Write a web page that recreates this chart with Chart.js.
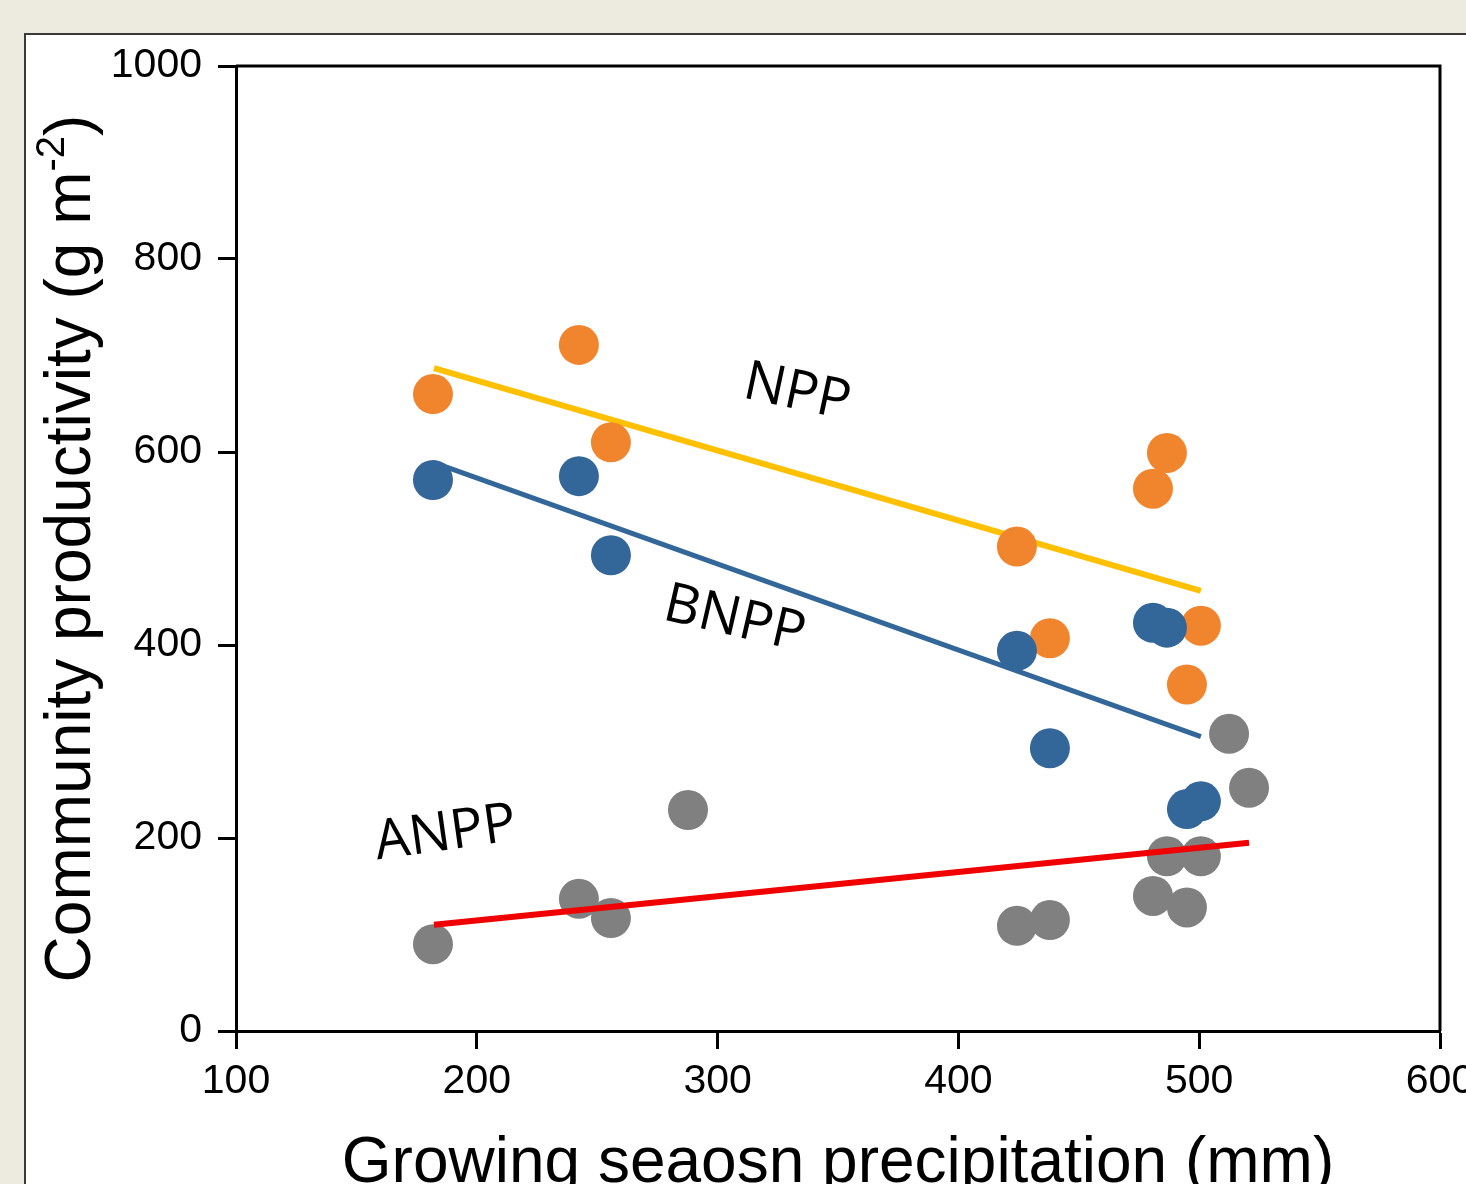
<!DOCTYPE html>
<html>
<head>
<meta charset="utf-8">
<script src="https://cdn.jsdelivr.net/npm/chart.js@4.4.1/dist/chart.umd.min.js"></script>
<style>
  html, body { margin: 0; padding: 0; background: #EDEAE0; }
  #wrap { position: absolute; left: 0; top: 0; width: 1466px; height: 1184px; }
</style>
</head>
<body>
<div id="wrap"><canvas id="chart" width="1466" height="1184"></canvas></div>
<script>
// growing season precipitation (mm) for the NPP / BNPP sites
const precip = [181.8, 242.4, 255.7, 424.3, 438, 480.8, 486.6, 494.9, 500.7];
const npp  = [660, 711, 610, 502, 407, 562, 599, 359, 420];
const bnpp = [571, 575, 493, 394, 293, 423, 418, 230, 238];

// ANPP has a few more sites
const anppPrecip = [181.8, 242.4, 255.7, 287.7, 424.3, 438, 480.8, 486.6, 494.9, 500.7, 512.4, 520.7];
const anpp = [90, 137, 117, 229, 109, 115, 140, 181, 128, 181, 308, 252];

// fitted lines (end points)
const nppFitX  = [182.2, 500.7];
const nppFitY  = [687, 456];
const bnppFitX = [182.2, 500.7];
const bnppFitY = [589, 305];
const anppFitX = [182.2, 520.7];
const anppFitY = [110, 195];

// in-plot labels: [text, x, y, angle in degrees]
const seriesLabels = [
  ['NPP', 333, 661, 12],
  ['BNPP', 307, 426, 13],
  ['ANPP', 187, 204, -8]
];

const orange = '#F0852D';
const blue = '#336699';
const grey = '#808080';
const tickFont = "'Liberation Sans', Arial, sans-serif";

const toPts = (xs, ys) => xs.map((x, i) => ({ x: x, y: ys[i] }));

const framePlugin = {
  id: 'frame',
  beforeDraw(chart) {
    const ctx = chart.ctx;
    ctx.save();
    ctx.fillStyle = '#EDEAE0';
    ctx.fillRect(0, 0, chart.width, chart.height);
    ctx.fillStyle = '#ffffff';
    ctx.fillRect(24, 33, chart.width - 24, chart.height - 33);
    ctx.strokeStyle = '#3a3a3a';
    ctx.lineWidth = 2;
    ctx.beginPath();
    ctx.moveTo(25, chart.height);
    ctx.lineTo(25, 34);
    ctx.lineTo(chart.width, 34);
    ctx.stroke();
    ctx.restore();
  },
  afterDraw(chart) {
    const ctx = chart.ctx;
    const a = chart.chartArea;
    const xs = chart.scales.x, ys = chart.scales.y;
    ctx.save();
    // top and right sides of the box
    ctx.strokeStyle = '#000';
    ctx.lineWidth = 3;
    ctx.beginPath();
    ctx.moveTo(a.left, a.top);
    ctx.lineTo(a.right, a.top);
    ctx.lineTo(a.right, a.bottom);
    ctx.stroke();

    // y axis title with superscript
    ctx.fillStyle = '#000';
    ctx.textBaseline = 'alphabetic';
    ctx.textAlign = 'left';
    const big = "64px " + tickFont, small = "40px " + tickFont;
    const main = 'Community productivity (g m', sup = '-2', tail = ')';
    ctx.font = big;
    const w1 = ctx.measureText(main).width, w3 = ctx.measureText(tail).width;
    ctx.font = small;
    const w2 = ctx.measureText(sup).width;
    const total = w1 + w2 + w3;
    ctx.translate(90, (a.top + a.bottom) / 2);
    ctx.rotate(-Math.PI / 2);
    let cx = -total / 2;
    ctx.font = big;
    ctx.fillText(main, cx, 0);
    cx += w1;
    ctx.font = small;
    ctx.fillText(sup, cx, -26);
    cx += w2;
    ctx.font = big;
    ctx.fillText(tail, cx, 0);
    ctx.restore();

    // series labels
    ctx.save();
    ctx.fillStyle = '#000';
    ctx.font = "55px 'Open Sans', 'Noto Sans', sans-serif";
    ctx.textAlign = 'center';
    ctx.textBaseline = 'middle';
    seriesLabels.forEach(([t, x, y, ang]) => {
      ctx.save();
      ctx.translate(xs.getPixelForValue(x), ys.getPixelForValue(y));
      ctx.rotate(ang * Math.PI / 180);
      ctx.fillText(t, 0, 0);
      ctx.restore();
    });
    ctx.restore();
  }
};

const fitLine = (xs, ys, color, width) => ({
  type: 'line',
  data: toPts(xs, ys),
  borderColor: color,
  borderWidth: width,
  borderCapStyle: 'butt',
  pointRadius: 0,
  fill: false,
  showLine: true
});

const dots = (xs, ys, color) => ({
  type: 'scatter',
  data: toPts(xs, ys),
  backgroundColor: color,
  borderWidth: 0,
  pointRadius: 20,
  pointHoverRadius: 20
});

new Chart(document.getElementById('chart'), {
  type: 'scatter',
  data: {
    datasets: [
      dots(precip, bnpp, blue),
      dots(precip, npp, orange),
      fitLine(nppFitX, nppFitY, '#FFC000', 6),
      fitLine(bnppFitX, bnppFitY, blue, 5),
      fitLine(anppFitX, anppFitY, '#F00000', 6),
      dots(anppPrecip, anpp, grey)
    ]
  },
  options: {
    responsive: false,
    animation: false,
    devicePixelRatio: 1,
    layout: { padding: { left: 0, top: 66, right: 26, bottom: 0 } },
    plugins: { legend: { display: false }, tooltip: { enabled: false } },
    scales: {
      x: {
        type: 'linear',
        min: 100,
        max: 600,
        ticks: {
          stepSize: 100,
          autoSkip: false,
          maxRotation: 0,
          color: '#000',
          padding: 8,
          font: { family: tickFont, size: 41 },
          callback: v => String(v)
        },
        grid: { drawOnChartArea: false, tickLength: 18, tickWidth: 3, tickColor: '#000' },
        border: { color: '#000', width: 3 },
        title: {
          display: true,
          text: 'Growing seaosn precipitation (mm)',
          color: '#000',
          font: { family: tickFont, size: 64, lineHeight: 1 },
          padding: { top: 0, bottom: -12 }
        },
        afterFit(s) { s.height = 153; s.paddingLeft = 0; s.paddingRight = 0; }
      },
      y: {
        type: 'linear',
        min: 0,
        max: 1000,
        ticks: {
          stepSize: 200,
          color: '#000',
          padding: 16,
          font: { family: tickFont, size: 41 },
          callback: v => String(v)
        },
        grid: { drawOnChartArea: false, tickLength: 18, tickWidth: 3, tickColor: '#000' },
        border: { color: '#000', width: 3 },
        afterFit(s) { s.width = 236; s.paddingTop = 0; s.paddingBottom = 0; }
      }
    }
  },
  plugins: [framePlugin]
});
</script>
</body>
</html>
